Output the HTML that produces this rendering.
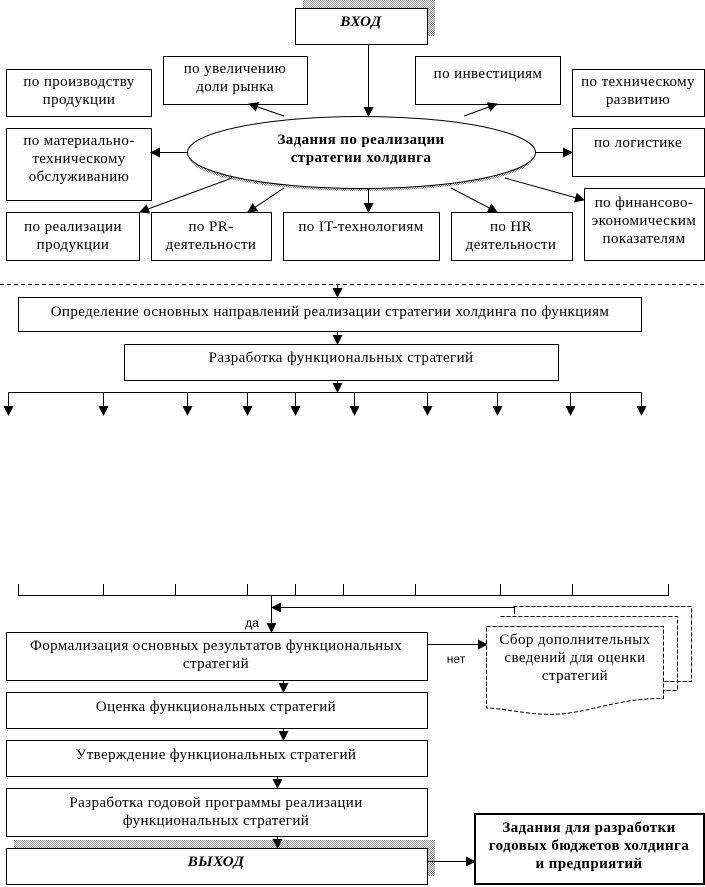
<!DOCTYPE html>
<html><head><meta charset="utf-8"><style>
html,body{margin:0;padding:0;background:#fff;}
svg{display:block;font-family:"Liberation Serif",serif;font-size:15px;letter-spacing:0.4px;}
</style></head><body>
<svg width="705" height="887" viewBox="0 0 705 887" xmlns="http://www.w3.org/2000/svg">
<defs>
<pattern id="ht" width="2" height="2" patternUnits="userSpaceOnUse"><rect width="2" height="2" fill="#fff"/><rect width="1" height="1" fill="#888"/><rect x="1" y="1" width="1" height="1" fill="#888"/></pattern>
<marker id="a" markerWidth="10" markerHeight="10" refX="9" refY="5" orient="auto" markerUnits="userSpaceOnUse"><path d="M0,0 L10,5 L0,10 z" fill="#000"/></marker>
</defs>
<g stroke="#000" stroke-width="1" fill="#fff">
<rect x="303" y="0" width="132" height="36" fill="url(#ht)" stroke="none"/>
<ellipse cx="361" cy="157" rx="172" ry="34" fill="url(#ht)" stroke="none"/>
<rect x="14" y="840" width="421" height="36" fill="url(#ht)" stroke="none"/>

<rect x="295.5" y="8.5" width="132" height="36"/>
<rect x="6.5" y="69.5" width="145" height="47"/>
<rect x="163.5" y="56.5" width="144" height="48"/>
<rect x="415.5" y="56.5" width="145" height="48"/>
<rect x="572.5" y="69.5" width="132" height="47"/>
<rect x="6.5" y="128.5" width="145" height="72"/>
<ellipse cx="361.5" cy="152.5" rx="174" ry="36"/>
<rect x="572.5" y="128.5" width="132" height="48"/>
<rect x="584.5" y="188.5" width="120" height="72"/>
<rect x="6.5" y="212.5" width="133" height="48"/>
<rect x="151.5" y="212.5" width="120" height="48"/>
<rect x="283.5" y="212.5" width="156" height="48"/>
<rect x="451.5" y="212.5" width="121" height="48"/>

<g fill="none" marker-end="url(#a)">
<line x1="368.5" y1="44" x2="368.5" y2="116"/>
<line x1="187" y1="152.5" x2="151" y2="152.5"/>
<line x1="536" y1="152.5" x2="572" y2="152.5"/>
<line x1="284" y1="116" x2="249" y2="104"/>
<line x1="464" y1="116" x2="497" y2="104"/>
<line x1="232" y1="178" x2="140" y2="212"/>
<line x1="284" y1="188" x2="248" y2="212"/>
<line x1="368.5" y1="188" x2="368.5" y2="212"/>
<line x1="451" y1="188" x2="497" y2="212"/>
<line x1="505" y1="178" x2="584" y2="200"/>
</g>

<line x1="0" y1="284.5" x2="705" y2="284.5" stroke-dasharray="4,3" fill="none"/>
<line x1="337.5" y1="284" x2="337.5" y2="297" marker-end="url(#a)" fill="none"/>
<rect x="18.5" y="297.5" width="623" height="34"/>
<line x1="337.5" y1="331" x2="337.5" y2="344" marker-end="url(#a)" fill="none"/>
<rect x="124.5" y="344.5" width="434" height="36"/>
<line x1="337.5" y1="380" x2="337.5" y2="392" marker-end="url(#a)" fill="none"/>
<line x1="8" y1="392.5" x2="641" y2="392.5" fill="none"/>
<g fill="none" marker-end="url(#a)">
<line x1="8.5" y1="392" x2="8.5" y2="415"/><line x1="103.5" y1="392" x2="103.5" y2="415"/>
<line x1="187.5" y1="392" x2="187.5" y2="415"/><line x1="247.5" y1="392" x2="247.5" y2="415"/>
<line x1="295.5" y1="392" x2="295.5" y2="415"/><line x1="354.5" y1="392" x2="354.5" y2="415"/>
<line x1="427.5" y1="392" x2="427.5" y2="415"/><line x1="497.5" y1="392" x2="497.5" y2="415"/>
<line x1="570.5" y1="392" x2="570.5" y2="415"/><line x1="641.5" y1="392" x2="641.5" y2="415"/>
</g>

<g fill="none">
<line x1="18" y1="595.5" x2="668" y2="595.5"/>
<line x1="18.5" y1="584" x2="18.5" y2="596"/><line x1="103.5" y1="584" x2="103.5" y2="596"/>
<line x1="175.5" y1="584" x2="175.5" y2="596"/><line x1="247.5" y1="584" x2="247.5" y2="596"/>
<line x1="295.5" y1="584" x2="295.5" y2="596"/><line x1="343.5" y1="584" x2="343.5" y2="596"/>
<line x1="415.5" y1="584" x2="415.5" y2="596"/><line x1="500.5" y1="584" x2="500.5" y2="596"/>
<line x1="572.5" y1="584" x2="572.5" y2="596"/><line x1="668.5" y1="584" x2="668.5" y2="596"/>
<line x1="271.5" y1="595" x2="271.5" y2="632" marker-end="url(#a)"/>
<polyline points="514.5,614 514.5,607.5 272,607.5" marker-end="url(#a)"/>
<line x1="427" y1="644.5" x2="487" y2="644.5" marker-end="url(#a)"/>
<line x1="283.5" y1="680" x2="283.5" y2="692" marker-end="url(#a)"/>
<line x1="283.5" y1="728" x2="283.5" y2="740" marker-end="url(#a)"/>
<line x1="277.5" y1="776" x2="277.5" y2="788" marker-end="url(#a)"/>
<line x1="277.5" y1="836" x2="277.5" y2="848" marker-end="url(#a)"/>
<line x1="427" y1="861.5" x2="475" y2="861.5" marker-end="url(#a)"/>
</g>
<g stroke-dasharray="4,2">
<polyline points="513.5,606.5 691.5,606.5 691.5,681.5 664,681.5" fill="none"/>
<polyline points="500.5,616.5 677.5,616.5 677.5,690.5 664,690.5" fill="none"/>
<path d="M486.5,626.5 L663.5,626.5 L663.5,698.5 C620,698 590,712 560,714 C530,716 505,708 486.5,708 Z" fill="#fff"/>
</g>
<rect x="6.5" y="632.5" width="421" height="48"/>
<rect x="6.5" y="692.5" width="421" height="36"/>
<rect x="6.5" y="740.5" width="421" height="36"/>
<rect x="6.5" y="788.5" width="421" height="48"/>
<rect x="6.5" y="848.5" width="421" height="36"/>
<rect x="475" y="814" width="229" height="70" stroke-width="2"/>
</g>

<g text-anchor="middle" fill="#000">
<text x="361" y="26" font-style="italic" font-weight="bold">ВХОД</text>
<text x="79" y="86">по производству</text><text x="79" y="104">продукции</text>
<text x="235" y="73">по увеличению</text><text x="235" y="91">доли рынка</text>
<text x="488" y="78">по инвестициям</text>
<text x="638" y="86">по техническому</text><text x="638" y="104">развитию</text>
<text x="79" y="145">по материально-</text><text x="79" y="163">техническому</text><text x="79" y="181">обслуживанию</text>
<text x="361" y="144" font-weight="bold">Задания по реализации</text><text x="361" y="162" font-weight="bold">стратегии холдинга</text>
<text x="638" y="147">по логистике</text>
<text x="644" y="207">по финансово-</text><text x="644" y="225">экономическим</text><text x="644" y="243">показателям</text>
<text x="73" y="231">по реализации</text><text x="73" y="249">продукции</text>
<text x="211" y="231">по PR-</text><text x="211" y="249">деятельности</text>
<text x="361" y="231">по IT-технологиям</text>
<text x="511" y="231">по HR</text><text x="511" y="249">деятельности</text>
<text x="330" y="316">Определение основных направлений реализации стратегии холдинга по функциям</text>
<text x="341" y="362">Разработка функциональных стратегий</text>
<text x="252" y="627" font-family="Liberation Sans, sans-serif" font-size="12" letter-spacing="0">да</text>
<text x="456" y="663" font-family="Liberation Sans, sans-serif" font-size="12" letter-spacing="0">нет</text>
<text x="575" y="644">Сбор дополнительных</text><text x="575" y="662">сведений для оценки</text><text x="575" y="680">стратегий</text>
<text x="216" y="650">Формализация основных результатов функциональных</text><text x="216" y="668">стратегий</text>
<text x="216" y="711">Оценка функциональных стратегий</text>
<text x="216" y="759">Утверждение функциональных стратегий</text>
<text x="216" y="807">Разработка годовой программы реализации</text><text x="216" y="825">функциональных стратегий</text>
<text x="216" y="866" font-style="italic" font-weight="bold">ВЫХОД</text>
<text x="589" y="832" font-weight="bold">Задания для разработки</text>
<text x="589" y="850" font-weight="bold">годовых бюджетов холдинга</text>
<text x="589" y="868" font-weight="bold">и предприятий</text>
</g>
</svg>
</body></html>
